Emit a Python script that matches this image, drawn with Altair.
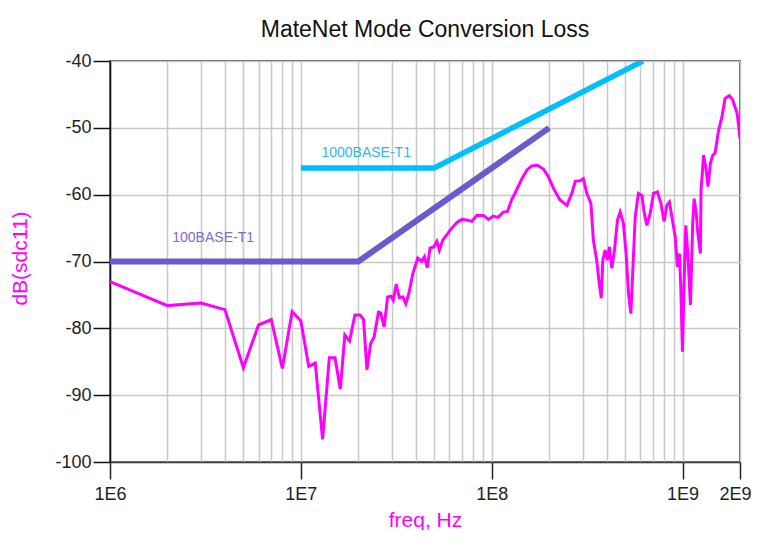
import altair as alt
import pandas as pd

# ---- measured trace: dB(sdc11) vs frequency ----
freq = [1.0e6, 2.0e6, 3.0e6, 4.0e6, 5.0e6, 6.0e6, 7.0e6, 8.0e6, 9.0e6, 1.0e7,
        1.10e7, 1.19e7, 1.30e7, 1.41e7, 1.51e7, 1.61e7, 1.70e7, 1.80e7, 1.92e7, 2.04e7,
        2.13e7, 2.22e7, 2.32e7, 2.42e7, 2.55e7, 2.62e7, 2.73e7, 2.85e7, 2.97e7, 3.05e7,
        3.16e7, 3.28e7, 3.42e7, 3.55e7, 3.70e7, 3.86e7, 4.10e7, 4.30e7, 4.44e7, 4.60e7,
        4.75e7, 4.99e7, 5.16e7, 5.32e7, 5.54e7, 5.82e7, 6.05e7, 6.56e7, 6.97e7, 7.40e7,
        7.87e7, 8.35e7, 9.05e7, 9.61e7, 1.02e8, 1.08e8, 1.15e8, 1.21e8, 1.27e8, 1.35e8,
        1.44e8, 1.53e8, 1.62e8, 1.74e8, 1.87e8, 1.98e8, 2.11e8, 2.28e8, 2.48e8, 2.63e8,
        2.74e8, 2.91e8, 3.02e8, 3.15e8, 3.31e8, 3.41e8, 3.55e8, 3.66e8, 3.75e8, 3.82e8,
        3.93e8, 4.04e8, 4.14e8, 4.26e8, 4.40e8, 4.56e8, 4.71e8, 4.90e8, 5.06e8, 5.21e8,
        5.36e8, 5.49e8, 5.65e8, 5.87e8, 6.12e8, 6.29e8, 6.50e8, 6.77e8, 7.04e8, 7.39e8,
        7.70e8, 8.01e8, 8.27e8, 8.54e8, 8.79e8, 9.15e8, 9.40e8, 9.63e8, 9.80e8, 9.99e8,
        1.02e9, 1.04e9, 1.07e9, 1.10e9, 1.13e9, 1.15e9, 1.18e9, 1.20e9, 1.24e9, 1.25e9,
        1.29e9, 1.33e9, 1.36e9, 1.40e9, 1.44e9, 1.48e9, 1.54e9, 1.61e9, 1.67e9, 1.76e9,
        1.83e9, 1.93e9, 1.96e9, 2.0e9]
sdc11 = [-73.0, -76.6, -76.2, -77.2, -85.9, -79.5, -78.7, -86.0, -77.5, -78.9,
         -85.7, -85.2, -96.6, -84.4, -84.4, -89.1, -81.0, -81.9, -78.0, -78.0,
         -78.7, -86.2, -82.3, -81.3, -77.6, -77.7, -79.8, -75.3, -75.2, -75.8,
         -73.4, -75.4, -75.3, -76.3, -74.5, -71.8, -69.5, -70.0, -69.3, -70.9,
         -68.0, -67.8, -67.0, -68.3, -66.8, -66.0, -65.3, -64.2, -63.7, -63.8,
         -64.0, -63.1, -63.1, -63.7, -63.2, -63.4, -62.6, -62.5, -60.8, -59.3,
         -57.6, -56.3, -55.7, -55.6, -56.2, -57.3, -59.1, -60.8, -61.6, -59.8,
         -58.0, -57.9, -57.6, -59.8, -61.3, -66.8, -69.8, -73.3, -75.5, -69.8,
         -68.3, -69.8, -67.8, -71.0, -68.3, -63.8, -62.6, -64.3, -68.8, -74.8,
         -77.8, -71.3, -63.3, -59.8, -60.1, -62.6, -64.6, -62.8, -59.8, -59.6,
         -61.3, -64.0, -61.6, -61.1, -63.3, -66.3, -70.8, -68.8, -74.3, -83.5,
         -72.8, -64.6, -69.8, -76.5, -64.3, -60.6, -62.8, -65.5, -68.8, -59.3,
         -54.1, -56.3, -58.8, -55.3, -54.1, -53.8, -50.6, -48.3, -45.6, -45.2,
         -45.8, -47.8, -49.3, -51.6]

# ---- limit masks ----
t100_freq = [1e6, 2e7, 2e8]
t100_db = [-70, -70, -50]
t1000_freq = [1e7, 5e7, 6.2e8]
t1000_db = [-56, -56, -40]

# ---- mask labels ----
label_text = ["1000BASE-T1", "100BASE-T1"]
label_freq = [2.2e7, 3.47e6]
label_db = [-54.4, -67.1]
label_color = ["#33B5F0", "#7A6CD6"]

# ---- axis ticks ----
x_major = [1000000, 10000000, 100000000, 1000000000, 2000000000]
x_grid = [m * 10 ** e for e in (6, 7, 8) for m in range(1, 10)] + [1000000000, 2000000000]
y_ticks = list(range(-100, -39, 5))

FONT = "Liberation Sans"
major_test = "indexof([" + ",".join(str(v) for v in x_major) + "], datum.value) >= 0"
y_major_test = "datum.value % 10 == 0"

x_scale = alt.Scale(type="log", domain=[1e6, 2e9], nice=False)
y_scale = alt.Scale(domain=[-100, -40], nice=False)

x_axis = alt.Axis(
    values=x_grid, grid=True, gridColor="#c8c8c8", gridWidth=1.5,
    labelExpr=major_test + " ? replace(format(datum.value, '.0e'), 'e+', 'E') : ''",
    tickOpacity={"condition": {"test": major_test, "value": 1}, "value": 0},
    labelOffset={"condition": {"test": "datum.value == 2000000000", "value": -5}, "value": 0},
    tickSize=17, tickColor="#222222", tickWidth=1.5,
    domainColor="#444444", domainWidth=1.5,
    labelFlush=False, labelOverlap=False, labelFontSize=18, labelColor="#222222",
    labelFont=FONT, labelPadding=6,
    title="freq, Hz", titleColor="#FF00FF", titleFontSize=21, titleFont=FONT,
    titleFontWeight="normal", titleX=315, titleY=64, titleBaseline="alphabetic",
    titleAlign="center",
)
y_axis = alt.Axis(
    values=y_ticks, grid=True, gridColor="#c8c8c8", gridWidth=1.5,
    gridOpacity={"condition": {"test": y_major_test, "value": 1}, "value": 0},
    tickSize={"condition": {"test": y_major_test, "value": 17}, "value": 10},
    tickColor="#111111", tickWidth=1.5,
    domainColor="#111111", domainWidth=1.5,
    labelExpr=y_major_test + " ? toString(datum.value) : ''",
    labelOverlap=False, labelFontSize=18, labelColor="#222222", labelFont=FONT,
    labelPadding=2,
    title="dB(sdc11)", titleColor="#FF00FF", titleFontSize=21, titleFont=FONT,
    titleFontWeight="normal", titleAngle=-90, titleX=-90, titleY=197,
    titleAlign="center", titleBaseline="middle",
)

trace_df = pd.DataFrame({"freq": freq, "db": sdc11})
t100_df = pd.DataFrame({"freq": t100_freq, "db": t100_db})
t1000_df = pd.DataFrame({"freq": t1000_freq, "db": t1000_db})
lab_df = pd.DataFrame({"freq": label_freq, "db": label_db, "text": label_text, "color": label_color})

base_x = alt.X("freq:Q", scale=x_scale, axis=x_axis)
base_y = alt.Y("db:Q", scale=y_scale, axis=y_axis)

trace = alt.Chart(trace_df).mark_line(color="#FF00FF", strokeWidth=3, clip=True).encode(
    x=base_x, y=base_y, order="freq:Q")
t100 = alt.Chart(t100_df).mark_line(color="#6A5ACD", strokeWidth=6, clip=True).encode(
    x=alt.X("freq:Q", scale=x_scale), y=alt.Y("db:Q", scale=y_scale))
t1000 = alt.Chart(t1000_df).mark_line(color="#00BFFF", strokeWidth=5.5, clip=True).encode(
    x=alt.X("freq:Q", scale=x_scale), y=alt.Y("db:Q", scale=y_scale))
labels = alt.Chart(lab_df).mark_text(fontSize=14, font=FONT, align="center",
                                      baseline="alphabetic").encode(
    x=alt.X("freq:Q", scale=x_scale), y=alt.Y("db:Q", scale=y_scale),
    text="text:N", color=alt.Color("color:N", scale=None))

chart = alt.layer(t100, t1000, trace, labels).properties(
    width=630, height=401,
    padding={"left": 102, "top": 53, "right": 11, "bottom": 68},
    autosize=alt.AutoSizeParams(type="none"),
    title=alt.Title("MateNet Mode Conversion Loss", fontSize=23, font=FONT,
                    fontWeight="normal", color="#111111", offset=10, anchor="middle"),
).configure_view(stroke="#222222", strokeWidth=1.5)

chart.save("out.html", embed_options={"renderer": "svg", "actions": False})
